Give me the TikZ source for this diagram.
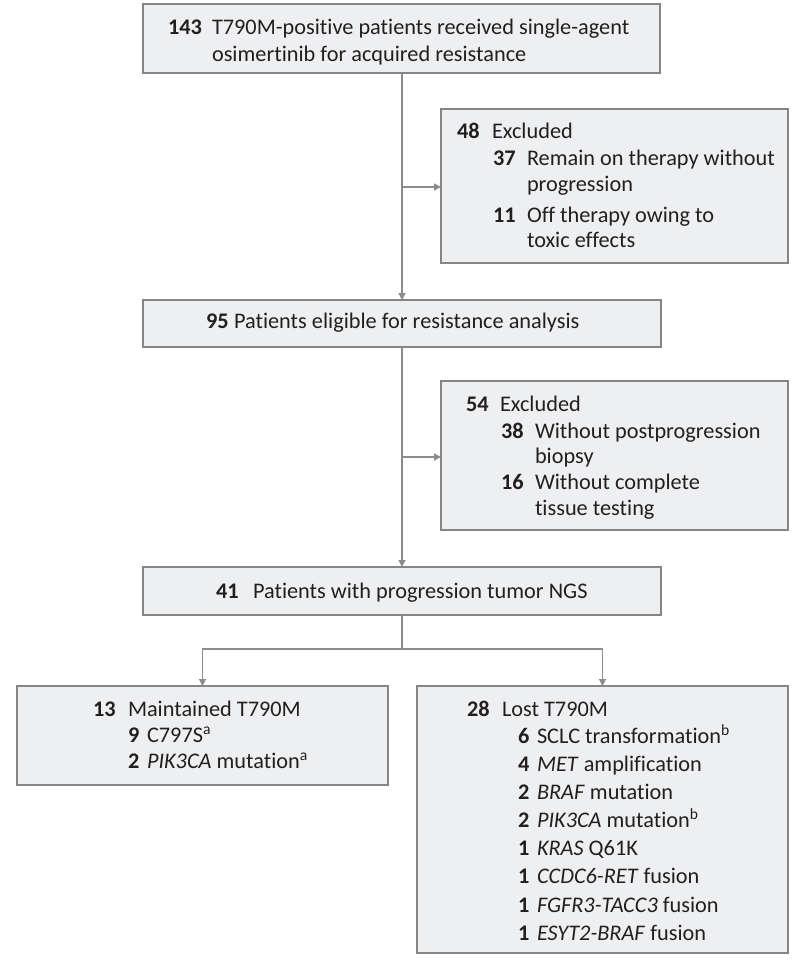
\documentclass[tikz,border=0pt]{standalone}
\usepackage{fontspec}
\setmainfont{Carlito}[Ligatures=NoCommon]
\usetikzlibrary{arrows.meta}
\definecolor{boxfill}{HTML}{EEEFF1}
\definecolor{boxline}{HTML}{858585}
\definecolor{conncol}{HTML}{8C8C8C}
\definecolor{ink}{HTML}{231F20}
\tikzset{
  box/.style={draw=boxline, fill=boxfill, line width=1.4pt, inner sep=0pt, outer sep=0pt, anchor=north west},
  txt/.style={anchor=base west, inner sep=0pt, outer sep=0pt, text=ink, font=\fontsize{22.3}{26}\selectfont},
  conn/.style={draw=conncol, line width=1.4pt, -{Triangle[length=7pt,width=7pt]}},
  plain/.style={draw=conncol, line width=1.4pt}
}
\begin{document}
\begin{tikzpicture}[x=1pt,y=-1pt]
\useasboundingbox (0,0) rectangle (808,960);
% boxes
\node[box, minimum width=517pt, minimum height=69pt] (b1) at (143,4) {};
\node[box, minimum width=347pt, minimum height=154pt] (b2) at (441,109) {};
\node[box, minimum width=518pt, minimum height=47pt] (b3) at (143,300) {};
\node[box, minimum width=347pt, minimum height=149pt] (b4) at (441,381) {};
\node[box, minimum width=518pt, minimum height=48pt] (b5) at (143,567) {};
\node[box, minimum width=371pt, minimum height=99pt] (b6) at (17,686) {};
\node[box, minimum width=371pt, minimum height=267pt] (b7) at (417,686) {};
% connectors
\coordinate (j1) at (402,187);
\coordinate (j2) at (402,457);
\coordinate (split) at (402,649);
\draw[conn] (402,73) -- (402,300);
\draw[conn] (j1) -- (b2.west |- j1);
\draw[conn] (402,347) -- (402,567);
\draw[conn] (j2) -- (b4.west |- j2);
\draw[plain] (402,615) -- (split);
\draw[conn] (split) -| (b6.north);
\draw[conn] (split) -| (b7.north);
% box 1 text
\node[txt] (t1n) at (168,35) {\textbf{143}};
\node[txt] (t1a) at (212,35) {T790M-positive patients received single-agent};
\node[txt] (t1b) at (212,62) {osimertinib for acquired resistance};
% box 2 text
\node[txt] (t2n) at (457,139) {\textbf{48}};
\node[txt] (t2a) at (492,139) {Excluded};
\node[txt] (t2b) at (493,166) {\textbf{37}};
\node[txt] (t2c) at (527,166) {Remain on therapy without};
\node[txt] (t2d) at (527,192) {progression};
\node[txt] (t2e) at (493,222) {\textbf{11}};
\node[txt] (t2f) at (527,222) {Off therapy owing to};
\node[txt] (t2g) at (527,247) {toxic effects};
% box 3 text
\node[txt] (t3n) at (206,328) {\textbf{95}};
\node[txt] (t3a) at (234,328) {Patients eligible for resistance analysis};
% box 4 text
\node[txt] (t4n) at (466,411) {\textbf{54}};
\node[txt] (t4a) at (500,411) {Excluded};
\node[txt] (t4b) at (501,438) {\textbf{38}};
\node[txt] (t4c) at (535,438) {Without postprogression};
\node[txt] (t4d) at (535,463) {biopsy};
\node[txt] (t4e) at (501,489) {\textbf{16}};
\node[txt] (t4f) at (535,489) {Without complete};
\node[txt] (t4g) at (535,515) {tissue testing};
% box 5 text
\node[txt] (t5n) at (216,598) {\textbf{41}};
\node[txt] (t5a) at (253,598) {Patients with progression tumor NGS};
% box 6 text
\node[txt] (t6n) at (93,716) {\textbf{13}};
\node[txt] (t6a) at (128,716) {Maintained T790M};
\node[txt] (t6b) at (128,742) {\textbf{9}};
\node[txt] (t6c) at (147,742) {C797S\textsuperscript{a}};
\node[txt] (t6d) at (128,768) {\textbf{2}};
\node[txt] (t6e) at (147,768) {\textit{PIK3CA} mutation\textsuperscript{a}};
% box 7 text
\node[txt] (t7n) at (467,716) {\textbf{28}};
\node[txt] (t7a) at (502,716) {Lost T790M};
\node[txt] (t7b1) at (518,743) {\textbf{6}};
\node[txt] (t7c1) at (537,743) {SCLC transformation\textsuperscript{b}};
\node[txt] (t7b2) at (518,771) {\textbf{4}};
\node[txt] (t7c2) at (537,771) {\textit{MET} amplification};
\node[txt] (t7b3) at (518,799) {\textbf{2}};
\node[txt] (t7c3) at (537,799) {\textit{BRAF} mutation};
\node[txt] (t7b4) at (518,827) {\textbf{2}};
\node[txt] (t7c4) at (537,827) {\textit{PIK3CA} mutation\textsuperscript{b}};
\node[txt] (t7b5) at (518,855) {\textbf{1}};
\node[txt] (t7c5) at (537,855) {\textit{KRAS} Q61K};
\node[txt] (t7b6) at (518,883) {\textbf{1}};
\node[txt] (t7c6) at (537,883) {\textit{CCDC6-RET} fusion};
\node[txt] (t7b7) at (518,912) {\textbf{1}};
\node[txt] (t7c7) at (537,912) {\textit{FGFR3-TACC3} fusion};
\node[txt] (t7b8) at (518,940) {\textbf{1}};
\node[txt] (t7c8) at (537,940) {\textit{ESYT2-BRAF} fusion};
\end{tikzpicture}
\end{document}
